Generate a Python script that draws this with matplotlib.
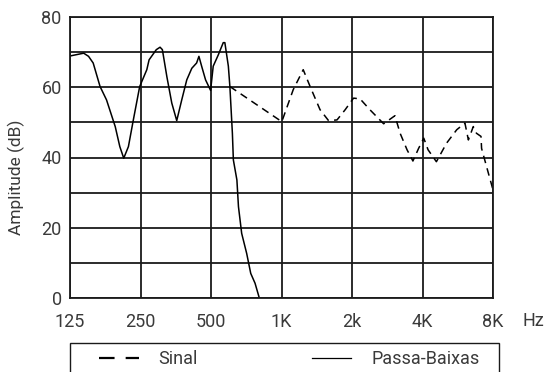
import matplotlib
matplotlib.use('Agg')
import matplotlib.pyplot as plt
from matplotlib.patches import Rectangle
from matplotlib.ticker import FixedLocator, NullFormatter

plt.rcParams['font.family'] = ['Roboto', 'DejaVu Sans']

# Passa-Baixas (solid) curve: frequency (Hz) and amplitude (dB)
lp_freq = [125, 143, 150, 157, 168, 179, 195, 204, 212, 222, 233, 248, 266, 272,
           292, 303, 310, 324, 340, 357, 375, 394, 414, 434, 444, 456, 474, 498,
           511, 537, 564, 573, 593, 602, 617, 623, 645, 655, 676, 710, 739, 771, 804]
lp_db = [68.9, 69.7, 68.8, 66.9, 60.2, 56.4, 48.8, 43.1, 39.8, 43.1, 50.7, 60.2, 65.0, 67.8,
         70.7, 71.4, 70.7, 63.0, 55.5, 50.5, 56.4, 62.1, 65.4, 66.9, 68.8, 66.0, 62.1, 59.1,
         66.0, 69.2, 72.7, 72.7, 66.0, 60.2, 46.9, 39.3, 33.6, 26.0, 18.4, 12.7, 7.0, 4.2, 0.0]

# Sinal (dashed) curve
sig_freq = [602, 1003, 1122, 1238, 1325, 1461, 1588, 1726, 1870, 2030, 2165, 2385, 2730,
            3050, 3210, 3436, 3640, 3850, 4050, 4225, 4585, 5070, 5600, 6070, 6280,
            6590, 6800, 7110, 7150, 7510, 8000]
sig_db = [60.2, 50.2, 59.3, 65.0, 60.2, 53.6, 50.5, 50.7, 53.6, 56.9, 56.7, 53.6, 49.6,
          51.9, 46.9, 42.2, 39.0, 42.6, 45.5, 42.2, 38.8, 44.1, 47.9, 49.8, 45.0,
          48.8, 46.9, 46.0, 42.6, 37.4, 30.8]

x_ticks = [125, 250, 500, 1000, 2000, 4000, 8000]
x_labels = ['125', '250', '500', '1K', '2k', '4K', '8K']
y_ticks = [0, 20, 40, 60, 80]
y_minor = [10, 30, 50, 70]

fig = plt.figure(figsize=(5.46, 3.72), dpi=100)
ax = fig.add_axes([70/546, 1 - 298/372, 423/546, 281/372])

ax.plot(sig_freq, sig_db, color='black', lw=1.1, ls=(0, (5, 3.5)), label='Sinal')
ax.plot(lp_freq, lp_db, color='black', lw=1.1, label='Passa-Baixas')

ax.set_xscale('log', base=2)
ax.set_xlim(125, 8000)
ax.set_ylim(0, 80)
ax.set_xticks(x_ticks)
ax.set_xticklabels(x_labels)
ax.xaxis.set_minor_locator(FixedLocator([]))
ax.set_yticks(y_ticks)
ax.yaxis.set_minor_locator(FixedLocator(y_minor))
ax.yaxis.set_minor_formatter(NullFormatter())

ax.grid(True, which='both', color='#1a1a1a', lw=1.3)
ax.set_axisbelow(True)
for s in ax.spines.values():
    s.set_color('#1a1a1a')
    s.set_linewidth(1.3)

txt_color = '#3a3a3a'
ax.tick_params(axis='both', which='both', length=0, labelsize=13, colors=txt_color)
ax.tick_params(axis='x', pad=11)
ax.tick_params(axis='y', pad=6)

ax.set_ylabel('Amplitude (dB)', fontsize=12.5, color=txt_color)
ax.yaxis.set_label_coords(-0.106, 0.43)

fig.text(533/546, 1 - 321/372, 'Hz', fontsize=13, color=txt_color, ha='center', va='center')

# legend box (bottom edge runs off the image)
fig.patches.append(Rectangle((70/546, -0.05), 429/546, 0.05 + 1 - 343/372,
                             transform=fig.transFigure, fill=False, ec='#1a1a1a', lw=1.0))
line_sig_leg = plt.Line2D([], [], color='black', lw=1.6, ls=(0, (7, 5)))
line_lp_leg = plt.Line2D([], [], color='black', lw=0.9)
fig.legend([line_sig_leg, line_lp_leg], ['Sinal', 'Passa-Baixas'], loc='center left',
           bbox_to_anchor=(90/546, 1 - 359/372), ncol=2, frameon=False, fontsize=13,
           handlelength=2.2, handletextpad=1.1, columnspacing=6.3, borderpad=0,
           labelcolor=txt_color)

fig.savefig('out.png', dpi=100)
